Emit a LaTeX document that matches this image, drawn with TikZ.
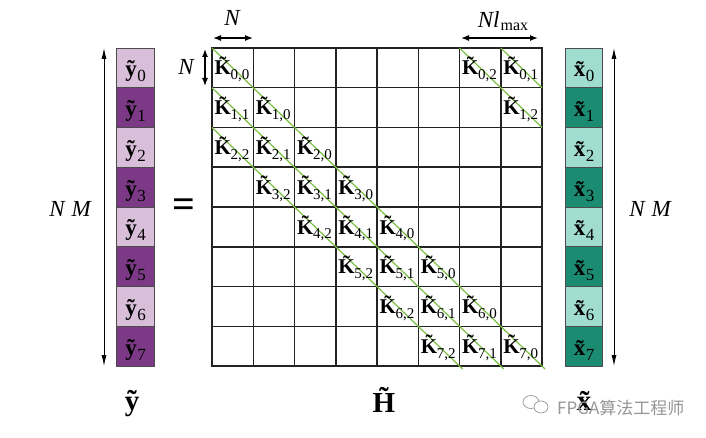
\documentclass[tikz,border=0pt]{standalone}
\usepackage{fontspec}
\setmainfont{Liberation Serif}
\newfontfamily\cjkfont{Noto Sans CJK SC}
\usetikzlibrary{arrows.meta}
\definecolor{ylight}{RGB}{216,190,216}
\definecolor{ydark}{RGB}{124,58,134}
\definecolor{xlight}{RGB}{160,220,207}
\definecolor{xdark}{RGB}{27,140,114}
\definecolor{diagc}{RGB}{122,192,66}
\definecolor{gridc}{RGB}{35,35,35}
\definecolor{wmark}{RGB}{150,150,150}
\newcommand\Kt[2]{\fontsize{21}{21}\selectfont{\bfseries K^^^^0303}\kern-0.5pt\raisebox{-5pt}{\fontsize{15}{15}\selectfont#1,#2}}
\newcommand\Vt[2]{\fontsize{23}{23}\selectfont{\bfseries #1^^^^0303}\kern0.5pt\raisebox{-5pt}{\fontsize{17}{17}\selectfont#2}}
\begin{document}
\begin{tikzpicture}[x=1pt,y=-1pt,
  cell/.style={draw=gridc,line width=1.5pt,minimum width=41.25pt,minimum height=39.75pt,inner sep=0pt,outer sep=0pt},
  vcell/.style={draw=gray!60!black,line width=0.8pt,minimum width=37.5pt,minimum height=39.75pt,inner sep=0pt,outer sep=0pt},
  klab/.style={inner sep=0pt,anchor=base west},
  vlab/.style={inner sep=0pt,anchor=base},
  dimarr/.style={{Latex[length=8pt,width=6pt]}-{Latex[length=8pt,width=6pt]},line width=1.3pt},
  longarr/.style={{Latex[length=11pt,width=5pt]}-{Latex[length=11pt,width=5pt]},line width=0.9pt},
  diagline/.style={draw=diagc,line width=1.2pt},
  dimlab/.style={inner sep=0pt,font=\fontsize{23}{23}\selectfont\itshape},
  biglab/.style={inner sep=0pt,anchor=base,font=\fontsize{29}{29}\selectfont\bfseries}]
\fill[white] (0,0) rectangle (706,438);
\useasboundingbox (0,0) rectangle (706,438);
% matrix cells
\foreach \r in {0,...,7}{
  \foreach \c in {0,...,7}{
    \node[cell] (c-\r-\c) at ({232.625+41.25*\c},{67.875+39.75*\r}) {};
  }
}
\node[draw=gridc,line width=2pt,inner sep=0pt,minimum width=330pt,minimum height=318pt] (Hbox) at (377,207) {};
% green diagonals
\draw[diagline] (c-0-0.north west) -- ([xshift=3pt,yshift=-3pt]c-7-7.south east);
\draw[diagline] (c-1-0.north west) -- ([xshift=3pt,yshift=-3pt]c-7-6.south east);
\draw[diagline] (c-2-0.north west) -- ([xshift=3pt,yshift=-3pt]c-7-5.south east);
\draw[diagline] (c-0-7.north west) -- (c-0-7.south east);
\draw[diagline] (c-0-6.north west) -- (c-1-7.south east);
% block labels
\foreach \r in {0,...,7}{
  \foreach \k in {0,1,2}{
    \pgfmathtruncatemacro\cc{mod(\r-\k+8,8)}
    \node[klab,xshift=2.5pt,yshift=-27pt] (k-\r-\k) at (c-\r-\cc.north west) {\Kt{\r}{\k}};
  }
}
% vectors
\foreach \r in {0,...,7}{
  \pgfmathtruncatemacro\odd{mod(\r,2)}
  \ifnum\odd=0
    \node[vcell,fill=ylight] (y-\r) at (135.5,{67.875+39.75*\r}) {};
    \node[vcell,fill=xlight] (x-\r) at (584,{67.875+39.75*\r}) {};
  \else
    \node[vcell,fill=ydark] (y-\r) at (135.5,{67.875+39.75*\r}) {};
    \node[vcell,fill=xdark] (x-\r) at (584,{67.875+39.75*\r}) {};
  \fi
  \node[vlab,yshift=-29pt] (yl-\r) at (y-\r.north) {\Vt{y}{\r}};
  \node[vlab,yshift=-29pt] (xl-\r) at (x-\r.north) {\Vt{x}{\r}};
}
% NM arrows
\coordinate (la) at (104,48);
\coordinate (lb) at (104,366);
\coordinate (ra) at (614,48);
\coordinate (rb) at (614,366);
\draw[longarr] (la) -- (lb);
\draw[longarr] (ra) -- (rb);
\node[dimlab,anchor=base] (nml) at (70,217) {N\hspace{7pt}M};
\node[dimlab,anchor=base] (nmr) at (650,217) {N\hspace{7pt}M};
% top N arrows
\coordinate (t1a) at (213,38);
\coordinate (t1b) at (253,38);
\coordinate (t2a) at (461,38);
\coordinate (t2b) at (538,38);
\draw[dimarr] (t1a) -- (t1b);
\draw[dimarr] (t2a) -- (t2b);
\node[dimlab,anchor=base] (ntop) at (232,26) {N};
\node[dimlab,anchor=base] (nlmax) at (503,28) {Nl\kern1pt\raisebox{-3pt}{\upshape\fontsize{16}{16}\selectfont max}};
% left N arrow
\coordinate (va) at (205,49);
\coordinate (vb) at (205,86);
\draw[dimarr] (va) -- (vb);
\node[dimlab,anchor=base] (nleft) at (186,75) {N};
% equals
\node[inner sep=0pt,font=\fontsize{40}{40}\selectfont\bfseries] (eq) at (184,208.5) {=};
% bottom labels
\node[biglab] (ylab) at (132,410) {y^^^^0303};
\node[biglab] (hlab) at (384,412) {H^^^^0303};
\node[biglab] (xlab) at (584,410) {x^^^^0303};
% watermark
\draw[wmark,line width=0.7pt] (531,402) ellipse (8pt and 6.5pt);
\draw[wmark,line width=0.7pt,fill=white] (541,407) ellipse (7pt and 6pt);
\node[inner sep=0pt,anchor=base west,text=wmark,font=\cjkfont\fontsize{17}{17}\selectfont] (wm) at (557,414) {FPGA算法工程师};
\end{tikzpicture}
\end{document}
